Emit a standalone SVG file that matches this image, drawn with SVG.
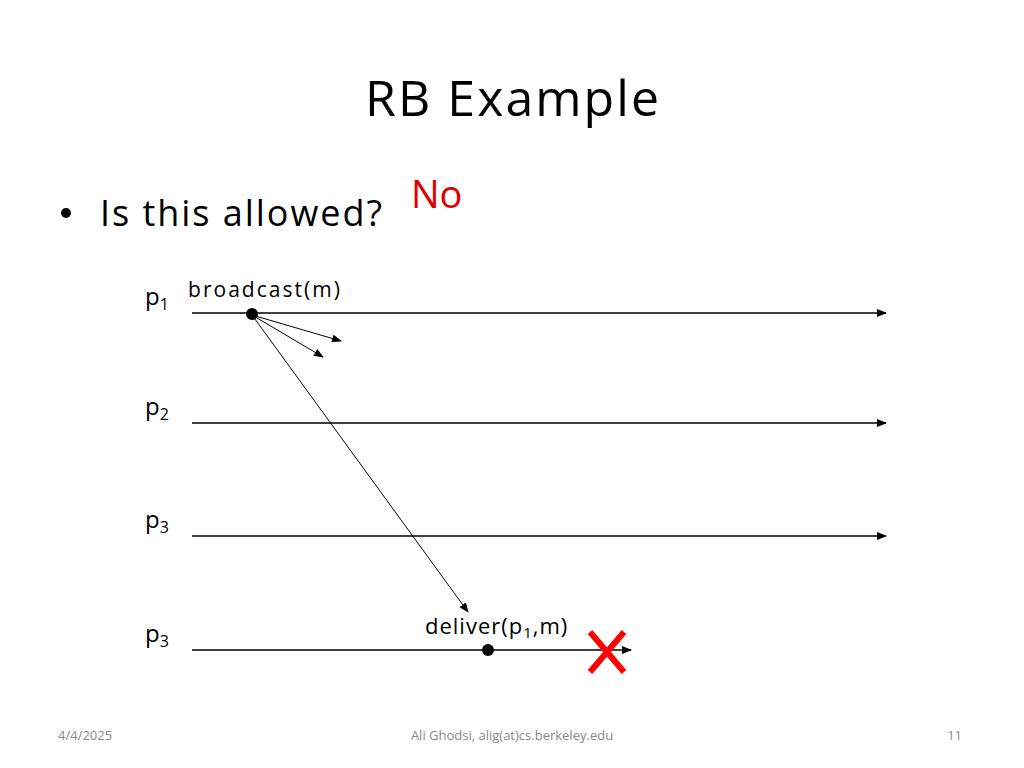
<svg xmlns="http://www.w3.org/2000/svg" width="1024" height="768" viewBox="0 0 1024 768">
<style>
.t{font-family:"Open Sans","Liberation Sans",sans-serif;fill:#000}
.l{stroke:#000;stroke-width:1.3;fill:none}
.a{stroke:#000;stroke-width:1;fill:none}
</style>
<defs>
<marker id="ah" markerWidth="10" markerHeight="8" refX="9" refY="4" orient="auto" markerUnits="userSpaceOnUse"><path d="M0,0 L10,4 L0,8 Z" fill="#000"/></marker>
</defs>
<rect width="1024" height="768" fill="#fff"/>
<text class="t" x="512" y="116" font-size="50" text-anchor="middle" textLength="294">RB Example</text>
<circle cx="66" cy="213" r="5" fill="#000"/>
<text class="t" x="100" y="226" font-size="36" textLength="282">Is this allowed?</text>
<text x="411" y="208" font-size="38" fill="#e00000" font-family="Open Sans,Liberation Sans,sans-serif">No</text>
<g id="labels">
<text class="t" x="145" y="305" font-size="24">p<tspan font-size="16" dy="5">1</tspan></text>
<text class="t" x="145" y="415" font-size="24">p<tspan font-size="16" dy="5">2</tspan></text>
<text class="t" x="145" y="528" font-size="24">p<tspan font-size="16" dy="5">3</tspan></text>
<text class="t" x="145" y="642" font-size="24">p<tspan font-size="16" dy="5">3</tspan></text>
<text class="t" x="188" y="297" font-size="21" textLength="152">broadcast(m)</text>
<text class="t" x="425" y="634" font-size="22" letter-spacing="1">deliver(p<tspan font-size="15" dy="4">1</tspan><tspan dy="-4">,m)</tspan></text>
</g>
<g id="connectors">
<line class="l" x1="192" y1="313" x2="886" y2="313" marker-end="url(#ah)"/>
<line class="l" x1="192" y1="423" x2="886" y2="423" marker-end="url(#ah)"/>
<line class="l" x1="192" y1="536" x2="886" y2="536" marker-end="url(#ah)"/>
<line class="l" x1="192" y1="650" x2="631" y2="650" marker-end="url(#ah)"/>
<line class="a" x1="252" y1="315" x2="341" y2="341" marker-end="url(#ah)"/>
<line class="a" x1="252" y1="315" x2="323" y2="357" marker-end="url(#ah)"/>
<line class="a" x1="252" y1="315" x2="468" y2="612" marker-end="url(#ah)"/>
</g>
<g id="events">
<circle cx="252" cy="314" r="6" fill="#000"/>
<circle cx="488" cy="650" r="6" fill="#000"/>
</g>
<g id="cross" stroke="#ff0000" stroke-width="6">
<line x1="590" y1="632" x2="624" y2="672"/>
<line x1="624" y1="632" x2="590" y2="672"/>
</g>
<text x="58" y="740" font-size="13" fill="#888" font-family="Open Sans,Liberation Sans,sans-serif">4/4/2025</text>
<text x="512" y="740" font-size="13" fill="#888" text-anchor="middle" font-family="Open Sans,Liberation Sans,sans-serif">Ali Ghodsi, alig(at)cs.berkeley.edu</text>
<text x="962" y="740" font-size="13" fill="#888" text-anchor="end" font-family="Open Sans,Liberation Sans,sans-serif">11</text>
</svg>
